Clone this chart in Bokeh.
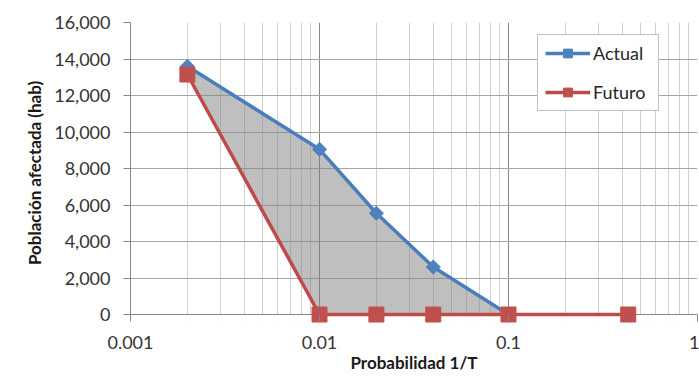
import math
from bokeh.plotting import figure
from bokeh.models import (FixedTicker, NumeralTickFormatter, CustomJSTickFormatter, Legend,
                          LegendItem, Range1d, BoxAnnotation, Span)
from bokeh.embed import file_html
from bokeh.resources import INLINE

# Data
actual_x = [0.002, 0.01, 0.02, 0.04, 0.1]
actual_y = [13600, 9050, 5550, 2600, 0]
futuro_x = [0.002, 0.01, 0.02, 0.04, 0.1, 0.43]
futuro_y = [13150, 0, 0, 0, 0, 0]
x_ticks = [0.001, 0.01, 0.1, 1]
y_ticks = [0, 2000, 4000, 6000, 8000, 10000, 12000, 14000, 16000]

FONT = "Lato"
BLUE = "#4a7ebb"
BLUE_M = "#4f81bd"
RED = "#be4b48"
RED_M = "#c0504d"

FRAME_H = 301
PLOT_H = 292  # pixels from 0 to 16000
y_top = 16000
y_bottom = -y_top * (FRAME_H - PLOT_H) / PLOT_H

p = figure(frame_width=567, frame_height=FRAME_H, x_axis_type="log", output_backend="svg",
           toolbar_location=None, x_range=Range1d(0.001, 1), y_range=Range1d(y_bottom, y_top),
           min_border_left=130, min_border_right=2, min_border_top=22, min_border_bottom=0)
p.outline_line_color = None
p.background_fill_color = "white"
p.border_fill_color = "white"

minor = []
for d in [0.001, 0.01, 0.1]:
    for k in range(2, 10):
        minor.append(d * k)

p.xaxis.ticker = FixedTicker(ticks=x_ticks, minor_ticks=minor)
p.yaxis.ticker = FixedTicker(ticks=y_ticks)
p.xaxis.formatter = CustomJSTickFormatter(code="return tick.toString();")
p.yaxis.formatter = NumeralTickFormatter(format="0,0")

p.xgrid.grid_line_color = "#868686"
p.xgrid.minor_grid_line_color = "#d0d0d0"
p.ygrid.grid_line_color = "#a6a6a6"

# white strip below zero hides grid lines under the x axis
p.add_layout(BoxAnnotation(bottom=y_bottom, top=0, fill_color="white", fill_alpha=1,
                           line_color=None, level="underlay"))
p.add_layout(Span(location=0, dimension="width", line_color="#868686", line_width=1,
                  level="underlay"))

for ax in (p.xaxis, p.yaxis):
    ax.major_tick_line_color = "#868686"
    ax.minor_tick_line_color = None
    ax.major_label_text_font = FONT
    ax.major_label_text_font_size = "18px"
    ax.major_label_text_color = "#333333"
    ax.axis_label_text_font = FONT
    ax.axis_label_text_font_size = "17px"
    ax.axis_label_text_font_style = "bold"
    ax.axis_label_text_color = "#1a1a1a"

p.yaxis.axis_line_color = "#868686"
p.yaxis.bounds = (0, y_top)
p.yaxis.major_tick_in = 0
p.yaxis.major_tick_out = 7
p.yaxis.major_label_standoff = 13
p.yaxis.axis_label_standoff = 6

p.xaxis.axis_line_color = None
p.xaxis.major_tick_in = FRAME_H - PLOT_H
p.xaxis.major_tick_out = -2
p.xaxis.major_label_standoff = 8
p.xaxis.axis_label_standoff = 0

p.xaxis.axis_label = "Probabilidad 1/T"
p.yaxis.axis_label = "Población afectada (hab)"

# Fill between curves
xmax = max(actual_x)
fx = [x for x in futuro_x if x <= xmax]
fy = [y for x, y in zip(futuro_x, futuro_y) if x <= xmax]
px = actual_x + fx[::-1]
py = actual_y + fy[::-1]
p.patch(px, py, fill_color="#808080", fill_alpha=0.5, line_color=None)

l1 = p.line(actual_x, actual_y, line_color=BLUE, line_width=3.5)
m1 = p.scatter(actual_x, actual_y, marker="square", angle=math.pi / 4, size=10,
               fill_color=BLUE_M, line_color=BLUE_M)
l2 = p.line(futuro_x, futuro_y, line_color=RED, line_width=3.5)
m2 = p.scatter(futuro_x, futuro_y, marker="square", size=15, fill_color=RED_M, line_color=RED_M)

legend = Legend(items=[LegendItem(label="Actual", renderers=[l1, m1]),
                       LegendItem(label="Futuro", renderers=[l2, m2])],
                location=(407, FRAME_H - 14 - 75))
legend.label_text_font = FONT
legend.label_text_font_size = "18px"
legend.label_text_color = "#262626"
legend.border_line_color = "#868686"
legend.border_line_width = 1
legend.background_fill_color = "white"
legend.background_fill_alpha = 1
legend.glyph_width = 45
legend.glyph_height = 22
legend.label_height = 22
legend.label_width = 58
legend.spacing = 17
legend.padding = 7
legend.margin = 0
legend.label_standoff = 3
p.add_layout(legend, "center")

open("out.html", "w").write(file_html(p, INLINE))
